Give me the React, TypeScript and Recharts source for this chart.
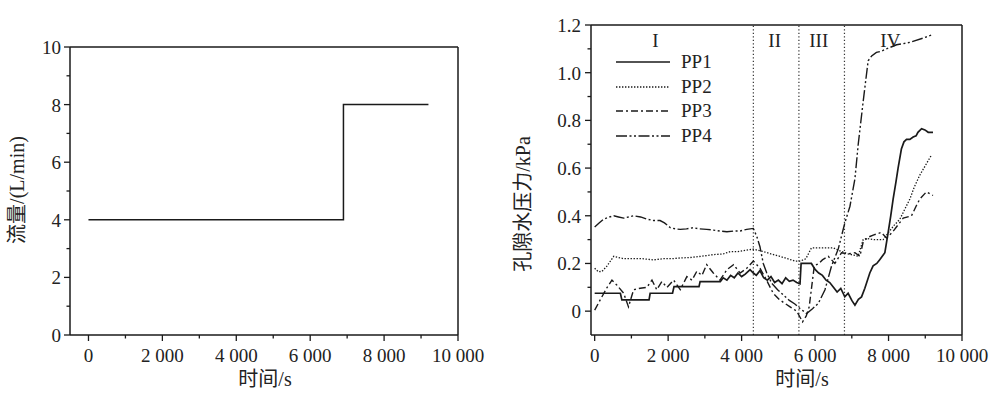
import React from "react";
import { LineChart, Line, XAxis, YAxis, ReferenceLine, Legend } from "recharts";

// ---------- data ----------
const flowT = [0, 6900, 9200];
const flowV = [4, 8, 8];

const pp1T = [0, 700, 740, 1480, 1510, 2120, 2160, 2840, 2870, 3420, 3500, 3600, 3700, 3800, 3900, 4000, 4100, 4230, 4320, 4400, 4500, 4600, 4700, 4800, 4900, 5000, 5100, 5200, 5300, 5400, 5500, 5590, 5620, 5900, 6000, 6100, 6200, 6300, 6400, 6500, 6600, 6700, 6810, 6900, 7000, 7085, 7180, 7265, 7355, 7490, 7580, 7680, 7760, 7900, 7990, 8060, 8125, 8200, 8260, 8350, 8420, 8490, 8580, 8670, 8750, 8800, 8900, 8990, 9080, 9210];
const pp1V = [0.075, 0.075, 0.047, 0.047, 0.075, 0.075, 0.103, 0.103, 0.124, 0.124, 0.14, 0.13, 0.15, 0.14, 0.16, 0.145, 0.155, 0.174, 0.16, 0.15, 0.17, 0.14, 0.13, 0.145, 0.12, 0.13, 0.115, 0.14, 0.125, 0.13, 0.12, 0.115, 0.2, 0.2, 0.175, 0.16, 0.15, 0.13, 0.12, 0.1, 0.08, 0.095, 0.06, 0.075, 0.045, 0.025, 0.05, 0.06, 0.096, 0.16, 0.19, 0.2, 0.216, 0.245, 0.33, 0.4, 0.47, 0.54, 0.6, 0.68, 0.71, 0.72, 0.72, 0.73, 0.735, 0.75, 0.765, 0.76, 0.75, 0.75];

const pp2T = [0, 100, 200, 340, 450, 520, 650, 790, 1000, 1300, 1600, 1870, 2100, 2330, 2600, 2900, 3230, 3500, 3690, 3900, 4140, 4320, 4450, 4590, 4800, 5040, 5250, 5450, 5600, 5750, 5900, 6130, 6360, 6500, 6720, 6900, 7050, 7170, 7310, 7400, 7600, 7853, 8000, 8150, 8307, 8450, 8580, 8700, 8850, 9000, 9170];
const pp2V = [0.18, 0.165, 0.167, 0.19, 0.215, 0.23, 0.225, 0.22, 0.22, 0.22, 0.215, 0.22, 0.22, 0.223, 0.225, 0.23, 0.237, 0.24, 0.25, 0.25, 0.256, 0.26, 0.255, 0.25, 0.24, 0.23, 0.22, 0.21, 0.21, 0.22, 0.265, 0.265, 0.265, 0.265, 0.25, 0.24, 0.235, 0.23, 0.3, 0.305, 0.3, 0.3, 0.33, 0.36, 0.385, 0.43, 0.47, 0.52, 0.57, 0.61, 0.655];

const pp3T = [0, 150, 340, 470, 600, 790, 920, 1060, 1240, 1420, 1560, 1690, 1830, 1970, 2150, 2330, 2510, 2650, 2780, 2920, 3050, 3230, 3410, 3600, 3780, 3960, 4140, 4320, 4500, 4680, 4860, 5040, 5320, 5500, 5660, 5760, 5840, 5930, 5980, 6100, 6200, 6360, 6540, 6720, 6900, 7085, 7220, 7310, 7445, 7600, 7800, 7945, 8100, 8250, 8400, 8625, 8750, 8850, 9030, 9210];
const pp3V = [0.004, 0.047, 0.1, 0.13, 0.11, 0.075, 0.018, 0.09, 0.096, 0.1, 0.13, 0.09, 0.124, 0.1, 0.13, 0.09, 0.145, 0.13, 0.167, 0.15, 0.195, 0.16, 0.13, 0.174, 0.195, 0.16, 0.18, 0.21, 0.18, 0.13, 0.075, 0.047, 0.018, 0.0, -0.045, -0.02, 0.018, 0.13, 0.19, 0.2, 0.215, 0.23, 0.2, 0.245, 0.24, 0.245, 0.23, 0.29, 0.31, 0.32, 0.33, 0.307, 0.33, 0.36, 0.39, 0.4, 0.44, 0.47, 0.5, 0.485];

const pp4T = [0, 120, 245, 400, 520, 650, 790, 920, 1060, 1250, 1420, 1600, 1780, 1900, 2060, 2200, 2330, 2500, 2690, 2850, 3050, 3230, 3410, 3600, 3780, 3960, 4140, 4320, 4420, 4500, 4590, 4685, 4820, 4980, 5135, 5300, 5450, 5590, 5770, 5930, 6090, 6270, 6450, 6630, 6810, 6950, 7085, 7175, 7310, 7445, 7540, 7670, 7800, 7945, 8220, 8580, 8940, 9210];
const pp4V = [0.353, 0.37, 0.386, 0.395, 0.4, 0.395, 0.39, 0.395, 0.4, 0.395, 0.386, 0.38, 0.38, 0.37, 0.35, 0.345, 0.343, 0.345, 0.35, 0.345, 0.343, 0.34, 0.336, 0.333, 0.336, 0.336, 0.343, 0.347, 0.31, 0.27, 0.2, 0.16, 0.117, 0.09, 0.068, 0.045, 0.03, 0.011, -0.01, 0.01, 0.033, 0.09, 0.19, 0.26, 0.37, 0.44, 0.555, 0.7, 0.88, 1.05, 1.07, 1.085, 1.09, 1.1, 1.117, 1.127, 1.145, 1.16];

const xTicks = [0, 1000, 2000, 3000, 4000, 5000, 6000, 7000, 8000, 9000, 10000];
const flowTicks = [0, 1, 2, 3, 4, 5, 6, 7, 8, 9, 10];
const pTicks = [0, 0.1, 0.2, 0.3, 0.4, 0.5, 0.6, 0.7, 0.8, 0.9, 1.0, 1.1, 1.2];
const stageLines = [4320, 5560, 6800];
const stageLabels = ["I", "II", "III", "IV"];
const stageLabelX = [1650, 4900, 6100, 8050];
const seriesNames = ["PP1", "PP2", "PP3", "PP4"];

// ---------- styles ----------
const FONT = "'Liberation Serif', 'Noto Sans CJK SC', serif";
const INK = "#1a1a1a";
const TXT = "#222";
const dashes = ["", "1.4 1.6", "7 3 2 3", "11 2.5 2 2.5 2 2.5"];
const widths = [1.7, 1.3, 1.4, 1.4];

const zip = (t: number[], v: number[]) => t.map((tt, i) => ({ t: tt, v: v[i] }));
const flowData = zip(flowT, flowV);
const ppData = [zip(pp1T, pp1V), zip(pp2T, pp2V), zip(pp3T, pp3V), zip(pp4T, pp4V)];

const fmtThousands = (v: number) => {
  if (v < 1000) return String(v);
  const s = String(v);
  return s.slice(0, s.length - 3) + " " + s.slice(s.length - 3);
};

const XTick = (props: any) => {
  const { x, y, payload } = props;
  const v = payload.value as number;
  const major = v % 2000 === 0;
  return (
    <g>
      <line x1={x} x2={x} y1={y} y2={y + (major ? 6 : 3.5)} stroke={INK} strokeWidth={1.3} />
      {major && (
        <text x={x} y={y + 27} textAnchor="middle" fontSize={19} fontFamily={FONT} fill={TXT}>
          {fmtThousands(v)}
        </text>
      )}
    </g>
  );
};

const FlowYTick = (props: any) => {
  const { x, y, payload } = props;
  const v = payload.value as number;
  const major = v % 2 === 0;
  return (
    <g>
      <line x1={x} x2={x - (major ? 6 : 3.5)} y1={y} y2={y} stroke={INK} strokeWidth={1.3} />
      {major && (
        <text x={x - 9} y={y + 7} textAnchor="end" fontSize={19} fontFamily={FONT} fill={TXT}>
          {String(v)}
        </text>
      )}
    </g>
  );
};

const PYTick = (props: any) => {
  const { x, y, payload } = props;
  const v = payload.value as number;
  const major = Math.round(v * 10) % 2 === 0;
  return (
    <g>
      <line x1={x} x2={x - (major ? 6 : 3.5)} y1={y} y2={y} stroke={INK} strokeWidth={1.3} />
      {major && (
        <text x={x - 10} y={y + 7} textAnchor="end" fontSize={19} fontFamily={FONT} fill={TXT}>
          {v === 0 ? "0" : v.toFixed(1)}
        </text>
      )}
    </g>
  );
};

const renderLegend = () => (
  <div style={{ fontFamily: FONT }}>
    {seriesNames.map((n, i) => (
      <div key={n} style={{ height: 24.5, display: "flex", alignItems: "center" }}>
        <svg width={56} height={10} style={{ display: "block" }}>
          <line x1={0} x2={54} y1={5} y2={5} stroke={INK} strokeWidth={widths[i]} strokeDasharray={dashes[i] || undefined} />
        </svg>
        <span style={{ marginLeft: 9, fontSize: 19, color: TXT, lineHeight: "20px" }}>{n}</span>
      </div>
    ))}
  </div>
);

const titleStyle: React.CSSProperties = {
  position: "absolute",
  fontFamily: FONT,
  fontSize: 20,
  color: TXT,
  whiteSpace: "nowrap",
  lineHeight: "22px",
};

export default function App() {
  return (
    <div style={{ position: "absolute", left: 0, top: 0, width: 1000, height: 393, background: "#fff", overflow: "hidden" }}>
      {/* Left chart: flow */}
      <div style={{ position: "absolute", left: 0, top: 0 }}>
        <LineChart width={500} height={393} data={flowData} margin={{ top: 47, right: 42, bottom: 0, left: 0 }}>
          <XAxis
            dataKey="t"
            type="number"
            domain={[-500, 10000]}
            ticks={xTicks}
            interval={0}
            tick={<XTick />}
            tickLine={false}
            tickSize={0}
            tickMargin={0}
            height={58}
            axisLine={{ stroke: INK, strokeWidth: 1.5 }}
            allowDataOverflow
          />
          <YAxis
            dataKey="v"
            type="number"
            domain={[0, 10]}
            ticks={flowTicks}
            interval={0}
            tick={<FlowYTick />}
            tickLine={false}
            tickSize={0}
            tickMargin={0}
            width={70}
            axisLine={{ stroke: INK, strokeWidth: 1.5 }}
          />
          <ReferenceLine y={10} stroke={INK} strokeWidth={1.5} />
          <ReferenceLine x={10000} stroke={INK} strokeWidth={1.5} />
          <Line type="stepAfter" dataKey="v" stroke={INK} strokeWidth={1.5} dot={false} isAnimationActive={false} />
        </LineChart>
      </div>

      {/* Right chart: pore pressure */}
      <div style={{ position: "absolute", left: 500, top: 0 }}>
        <LineChart width={500} height={393} margin={{ top: 25, right: 38, bottom: 0, left: 0 }}>
          <XAxis
            dataKey="t"
            type="number"
            domain={[-100, 10000]}
            ticks={xTicks}
            interval={0}
            tick={<XTick />}
            tickLine={false}
            tickSize={0}
            tickMargin={0}
            height={58}
            axisLine={{ stroke: INK, strokeWidth: 1.5 }}
            allowDataOverflow
          />
          <YAxis
            dataKey="v"
            type="number"
            domain={[-0.1, 1.2]}
            ticks={pTicks}
            interval={0}
            tick={<PYTick />}
            tickLine={false}
            tickSize={0}
            tickMargin={0}
            width={91}
            axisLine={{ stroke: INK, strokeWidth: 1.5 }}
            allowDataOverflow
          />
          <ReferenceLine y={1.2} stroke={INK} strokeWidth={1.5} />
          <ReferenceLine x={10000} stroke={INK} strokeWidth={1.5} />
          {stageLines.map((sx) => (
            <ReferenceLine key={sx} x={sx} stroke="#333" strokeWidth={1.2} strokeDasharray="1.3 2.2" />
          ))}
          {ppData.map((d, i) => (
            <Line
              key={seriesNames[i]}
              data={d}
              name={seriesNames[i]}
              type="linear"
              dataKey="v"
              stroke={INK}
              strokeWidth={widths[i]}
              strokeDasharray={dashes[i] || undefined}
              dot={false}
              isAnimationActive={false}
            />
          ))}
          <Legend
            layout="vertical"
            align="center"
            verticalAlign="middle"
            content={renderLegend}
            wrapperStyle={{ position: "absolute", left: 116, top: 50, width: 120, height: 100 }}
          />
        </LineChart>
      </div>

      {/* Stage labels */}
      {stageLabels.map((s, i) => (
        <div
          key={s}
          style={{
            ...titleStyle,
            fontSize: 19,
            left: 594.7 + (stageLabelX[i] * 367.3) / 10000,
            top: 41,
            transform: "translate(-50%, -50%)",
          }}
        >
          {s}
        </div>
      ))}

      {/* Axis titles */}
      <div style={{ ...titleStyle, left: 265, top: 379, transform: "translate(-50%, -50%)" }}>时间/s</div>
      <div style={{ ...titleStyle, left: 802, top: 379, transform: "translate(-50%, -50%)" }}>时间/s</div>
      <div style={{ ...titleStyle, left: 17, top: 190, transform: "translate(-50%, -50%) rotate(-90deg)" }}>流量/(L/min)</div>
      <div style={{ ...titleStyle, left: 523, top: 204, transform: "translate(-50%, -50%) rotate(-90deg)" }}>孔隙水压力/kPa</div>
    </div>
  );
}
